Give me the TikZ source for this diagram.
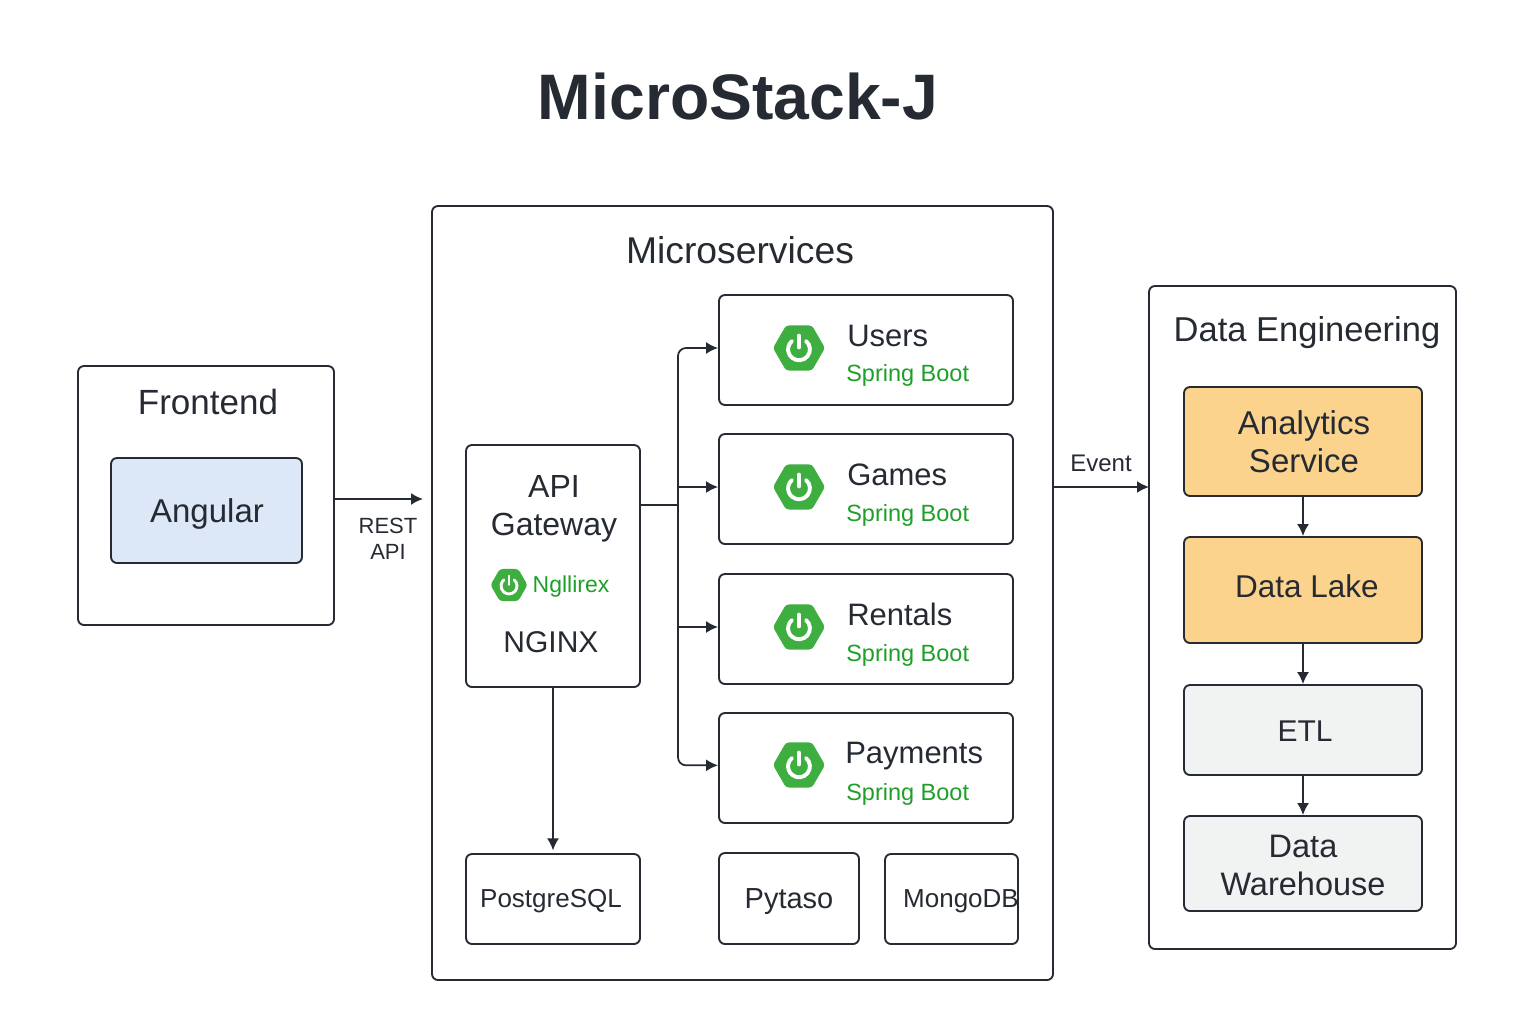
\documentclass[tikz,border=0pt]{standalone}
\usepackage{fontspec}
\setmainfont{Liberation Sans}
\usetikzlibrary{positioning, arrows.meta, shapes.geometric}
\definecolor{ink}{HTML}{262B33}
\definecolor{springgreen}{HTML}{3DAE3F}
\definecolor{bootgreen}{HTML}{1F9F2A}
\definecolor{angularblue}{HTML}{DCE8F7}
\definecolor{dataorange}{HTML}{FBD38D}
\definecolor{etlgrey}{HTML}{F1F2F2}
\newlength\px
\setlength\px{0.75pt}
\newcommand{\fs}[1]{\fontsize{#1\px}{1.2\dimexpr#1\px\relax}\selectfont}
\tikzset{
    box/.style={draw=ink, line width=1.4pt, rounded corners=6\px, fill=white, inner sep=0pt},
    label/.style={text=ink, inner sep=0pt, align=center},
    bootlabel/.style={text=bootgreen, inner sep=0pt, anchor=west, font=\fs{23.5}},
    link/.style={draw=ink, line width=1.3pt},
    arrow/.style={link, -{Latex[length=9pt, width=9pt]}},
    hexa/.style={regular polygon, regular polygon sides=6, fill=springgreen, rounded corners=3\px, inner sep=0pt},
    pics/power/.style={code={
        \draw[white, line width=#1*0.15\px, line cap=round] (0.27*#1,-0.27*#1) arc[start angle=310, end angle=590, radius=0.42*#1];
        \draw[white, line width=#1*0.14\px, line cap=round] (0,-0.02*#1) -- (0,-0.48*#1);
    }},
}
\begin{document}
\begin{tikzpicture}[x=\px, y=-\px]
    \useasboundingbox (0,0) rectangle (1536,1024);
    \node[label, font=\fs{64.3}\bfseries] (title) at (738,97) {MicroStack-J};

    \node[box, minimum width=256\px, minimum height=259\px] (frontend) at (206,495.5) {};
    \node[label, font=\fs{35}] (frontendlabel) at (208,402) {Frontend};
    \node[box, fill=angularblue, minimum width=191\px, minimum height=105\px] (angular) at (206.5,510.5) {};
    \node[label, font=\fs{33}] (angularlabel) at (207,514) {Angular};

    \node[box, minimum width=621\px, minimum height=774\px] (micro) at (742.5,593) {};
    \node[label, font=\fs{37.3}] (microlabel) at (740,250) {Microservices};

    \node[box, minimum width=174\px, minimum height=242\px] (gateway) at (553,566) {};
    \node[label, font=\fs{32}] (gatewaylabel) at (554,509) {API\\[-1\px]Gateway};
    \node[hexa, minimum size=37\px] (nginxhex) at (509,585) {};
    \pic at (nginxhex) {power=19};
    \node[label, text=bootgreen, font=\fs{23}] (nginxlogo) at (571,587) {Ngllirex};
    \node[label, font=\fs{30}] (nginxlabel) at (551,642) {NGINX};

    \node[box, minimum width=294\px, minimum height=110\px] (users) at (866,350) {};
    \node[hexa, minimum size=52\px] (usershex) at (799,348) {};
    \pic at (usershex) {power=26};
    \node[label, anchor=west, font=\fs{31}] (userslabel) at (847,336) {Users};
    \node[bootlabel] (usersboot) at (846,375) {Spring Boot};

    \node[box, minimum width=294\px, minimum height=110\px] (games) at (866,489) {};
    \node[hexa, minimum size=52\px] (gameshex) at (799,487) {};
    \pic at (gameshex) {power=26};
    \node[label, anchor=west, font=\fs{31}] (gameslabel) at (847,475) {Games};
    \node[bootlabel] (gamesboot) at (846,515) {Spring Boot};

    \node[box, minimum width=294\px, minimum height=110\px] (rentals) at (866,629) {};
    \node[hexa, minimum size=52\px] (rentalshex) at (799,627) {};
    \pic at (rentalshex) {power=26};
    \node[label, anchor=west, font=\fs{31}] (rentalslabel) at (847,614) {Rentals};
    \node[bootlabel] (rentalsboot) at (846,655) {Spring Boot};

    \node[box, minimum width=294\px, minimum height=110\px] (payments) at (866,768) {};
    \node[hexa, minimum size=52\px] (paymentshex) at (799,765) {};
    \pic at (paymentshex) {power=26};
    \node[label, anchor=west, font=\fs{31}] (paymentslabel) at (845,756) {Payments};
    \node[bootlabel] (paymentsboot) at (846,794) {Spring Boot};

    \node[box, minimum width=174\px, minimum height=90\px] (postgres) at (553,899) {};
    \node[label, font=\fs{26}] (postgreslabel) at (551,901) {PostgreSQL};
    \node[box, minimum width=140\px, minimum height=91\px] (pytaso) at (789,898.5) {};
    \node[label, font=\fs{29}] (pytasolabel) at (789,902) {Pytaso};
    \node[box, minimum width=133\px, minimum height=90\px] (mongo) at (951.5,899) {};
    \node[label, font=\fs{26}] (mongolabel) at (961,901) {MongoDB};

    \node[box, minimum width=307\px, minimum height=663\px] (dataeng) at (1302.5,617.5) {};
    \node[label, font=\fs{34.5}] (dataenglabel) at (1307,333) {Data Engineering};
    \node[box, fill=dataorange, minimum width=238\px, minimum height=109\px] (analytics) at (1303,441.5) {};
    \node[label, font=\fs{33}] (analyticslabel) at (1304,442) {Analytics\\[-2\px]Service};
    \node[box, fill=dataorange, minimum width=238\px, minimum height=106\px] (lake) at (1303,590) {};
    \node[label, font=\fs{31.5}] (lakelabel) at (1307,586) {Data Lake};
    \node[box, fill=etlgrey, minimum width=238\px, minimum height=90\px] (etl) at (1303,730) {};
    \node[label, font=\fs{30}] (etllabel) at (1305,731) {ETL};
    \node[box, fill=etlgrey, minimum width=238\px, minimum height=95\px] (warehouse) at (1303,863.5) {};
    \node[label, font=\fs{32.5}] (warehouselabel) at (1303,865) {Data\\[-1\px]Warehouse};

    \coordinate (restend) at (423,499);
    \coordinate (trunk) at (678,505);
    \coordinate (eventend) at (1149,487);
    \draw[arrow] (frontend.east |- restend) -- (restend);
    \node[label, font=\fs{22}] (restlabel) at (388,539) {REST\\API};
    \draw[link] (gateway.east |- trunk) -- (trunk);
    \draw[arrow, rounded corners=8\px] (trunk) |- ([yshift=1.5pt]users.west);
    \draw[arrow] (trunk |- gameshex) -- ([yshift=1.5pt]games.west);
    \draw[arrow] (trunk |- rentalshex) -- ([yshift=1.5pt]rentals.west);
    \draw[arrow, rounded corners=8\px] (trunk) |- ([yshift=2pt]payments.west);
    \draw[arrow] (gateway.south) -- ([yshift=2pt]postgres.north);
    \draw[arrow] (micro.east |- eventend) -- (eventend);
    \node[label, font=\fs{24}] (eventlabel) at (1101,463) {Event};
    \draw[arrow] (analytics.south) -- (analytics.south |- lake.north);
    \draw[arrow] (lake.south) -- (etl.north);
    \draw[arrow] (etl.south) -- (warehouse.north);
\end{tikzpicture}
\end{document}
